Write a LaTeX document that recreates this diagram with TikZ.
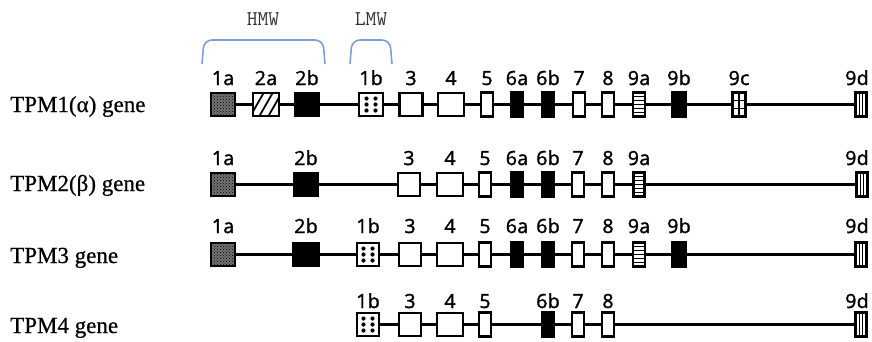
\documentclass[tikz,border=0pt]{standalone}
\usepackage{fontspec}
\setmainfont{Liberation Serif}[BoldFont={Liberation Serif}, BoldFeatures={FakeBold=0.6}]
\newfontfamily\exonfont{Open Sans}[LetterSpace=2, BoldFont={Open Sans}, BoldFeatures={FakeBold=1.6}]
\usetikzlibrary{patterns}
\definecolor{bracketblue}{RGB}{125,158,212}

\tikzset{
  exon/.style={draw, line width=2.3pt, inner sep=0pt, minimum height=23pt, fill=white},
  nar/.style={minimum height=24pt},
  blk/.style={fill=black},
  stipple/.style={fill=black!55, postaction={pattern=crosshatch dots, pattern color=black}},
  hatch/.style={path picture={
    \foreach \d in {-9,0,9}{
      \draw[black, line width=1.8pt]
        ([shift={({(\d-8)*1pt},-14pt)}]path picture bounding box.center) --
        ([shift={({(\d+8)*1pt},14pt)}]path picture bounding box.center);}}},
  dotsix/.style={path picture={
    \foreach \i in {-4.5,4.5}{\foreach \j in {-6,0,6}{
      \fill[black] ([shift={(\i pt,\j pt)}]path picture bounding box.center) circle (2.1pt);}}}},
  stripes/.style={path picture={
    \foreach \j in {-8,-4,0,4,8}{
      \draw[black, line width=1.2pt]
        ([shift={(-8pt,\j pt)}]path picture bounding box.center) --
        ([shift={(8pt,\j pt)}]path picture bounding box.center);}}},
  checker/.style={path picture={
    \draw[black, line width=1.4pt]
      ([shift={(0pt,-14pt)}]path picture bounding box.center) --
      ([shift={(0pt,14pt)}]path picture bounding box.center);
    \foreach \j in {-4,4}{
      \draw[black, line width=1.4pt]
        ([shift={(-8pt,\j pt)}]path picture bounding box.center) --
        ([shift={(8pt,\j pt)}]path picture bounding box.center);}}},
  bars/.style={path picture={
    \foreach \i in {-1.8,1.8}{
      \draw[black, line width=1.2pt]
        ([shift={(\i pt,-14pt)}]path picture bounding box.center) --
        ([shift={(\i pt,14pt)}]path picture bounding box.center);}}},
  exlabel/.style={anchor=base, inner sep=0pt, font=\exonfont\bfseries\fontsize{19.5}{22}\selectfont},
  genelabel/.style={anchor=base west, inner sep=0pt, font=\bfseries\fontsize{23}{26}\selectfont},
  grouplabel/.style={anchor=base, inner sep=0pt, text=black!80, font=\ttfamily\fontsize{21}{22}\selectfont},
  intron/.style={line width=2.1pt},
  groupbrace/.style={draw=bracketblue, line width=1.6pt, rounded corners=8pt},
}

% \ex{row}{exon}{x}{width}{style}: exon box on the current row plus its label
\newcommand\rowy{0}
\newcommand\laby{0}
\newcommand\ex[6][]{%
  \node[exon,#6,minimum width=#5pt] (#2-#3) at (#4,\rowy) {};
  \node[exlabel,#1] (#2-#3-lab) at (#4,\laby) {#3};}

\begin{document}
\begin{tikzpicture}[x=1pt,y=-1pt]
\useasboundingbox (0,0) rectangle (872,341);

% exon groups
\draw[groupbrace] (202,64) -- (204,40) -- (323,40) -- (325,64);
\draw[groupbrace] (350,64) -- (352,40) -- (390,40) -- (392,64);
\node[grouplabel] (hmw) at (263,25) {HMW};
\node[grouplabel] (lmw) at (371,25) {LMW};

% gene names
\node[genelabel] (g1) at (10,112) {TPM1(α) gene};
\node[genelabel] (g2) at (10,191) {TPM2(β) gene};
\node[genelabel] (g3) at (10,263) {TPM3 gene};
\node[genelabel] (g4) at (10,333) {TPM4 gene};

% TPM1
\renewcommand\rowy{104.5}\renewcommand\laby{85}
\ex{a}{1a}{223}{24}{stipple}
\ex{a}{2a}{266}{26}{hatch}
\ex{a}{2b}{307}{24}{blk}
\ex{a}{1b}{371}{24}{dotsix}
\ex{a}{3}{411}{23}{}
\ex{a}{4}{451}{26}{}
\ex{a}{5}{487}{12}{nar}
\ex{a}{6a}{517}{12}{nar,blk}
\ex{a}{6b}{548}{12}{nar,blk}
\ex{a}{7}{579}{12}{nar}
\ex{a}{8}{608}{12}{nar}
\ex{a}{9a}{639}{12}{nar,stripes}
\ex{a}{9b}{679}{13}{nar,blk}
\ex{a}{9c}{739}{13}{nar,checker}
\ex[xshift=-4pt]{a}{9d}{861}{11}{nar,bars}
\foreach \p/\q in {1a/2a,2a/2b,2b/1b,1b/3,3/4,4/5,5/6a,6a/6b,6b/7,7/8,8/9a,9a/9b,9b/9c,9c/9d}
  \draw[intron] (a-\p) -- (a-\q);

% TPM2
\renewcommand\rowy{184.5}\renewcommand\laby{165}
\ex{b}{1a}{223}{24}{stipple}
\ex{b}{2b}{306}{24}{blk}
\ex{b}{3}{409}{22}{}
\ex{b}{4}{450}{26}{}
\ex{b}{5}{485}{12}{nar}
\ex{b}{6a}{517}{12}{nar,blk}
\ex{b}{6b}{548}{12}{nar,blk}
\ex{b}{7}{578}{12}{nar}
\ex{b}{8}{608}{12}{nar}
\ex{b}{9a}{639}{11}{nar,stripes}
\ex[xshift=-5pt]{b}{9d}{862}{11}{nar,bars}
\foreach \p/\q in {1a/2b,2b/3,3/4,4/5,5/6a,6a/6b,6b/7,7/8,8/9a,9a/9d}
  \draw[intron] (b-\p) -- (b-\q);

% TPM3
\renewcommand\rowy{254.5}\renewcommand\laby{233}
\ex{c}{1a}{223}{24}{stipple}
\ex{c}{2b}{306}{25}{blk}
\ex{c}{1b}{368}{22}{dotsix}
\ex{c}{3}{410}{22}{}
\ex{c}{4}{450}{26}{}
\ex{c}{5}{485}{12}{nar}
\ex{c}{6a}{517}{12}{nar,blk}
\ex{c}{6b}{548}{12}{nar,blk}
\ex{c}{7}{578}{12}{nar}
\ex{c}{8}{608}{12}{nar}
\ex{c}{9a}{639}{12}{nar,stripes}
\ex{c}{9b}{679}{13}{nar,blk}
\ex[xshift=-4pt]{c}{9d}{861}{11}{nar,bars}
\foreach \p/\q in {1a/2b,2b/1b,1b/3,3/4,4/5,5/6a,6a/6b,6b/7,7/8,8/9a,9a/9b,9b/9d}
  \draw[intron] (c-\p) -- (c-\q);

% TPM4
\renewcommand\rowy{324.5}\renewcommand\laby{308}
\ex{d}{1b}{368}{22}{dotsix}
\ex{d}{3}{410}{22}{}
\ex{d}{4}{450}{26}{}
\ex{d}{5}{485}{12}{nar}
\ex{d}{6b}{548}{12}{nar,blk}
\ex{d}{7}{578}{12}{nar}
\ex{d}{8}{608}{12}{nar}
\ex[xshift=-4pt]{d}{9d}{861}{11}{nar,bars}
\foreach \p/\q in {1b/3,3/4,4/5,5/6b,6b/7,7/8,8/9d}
  \draw[intron] (d-\p) -- (d-\q);
\end{tikzpicture}
\end{document}
